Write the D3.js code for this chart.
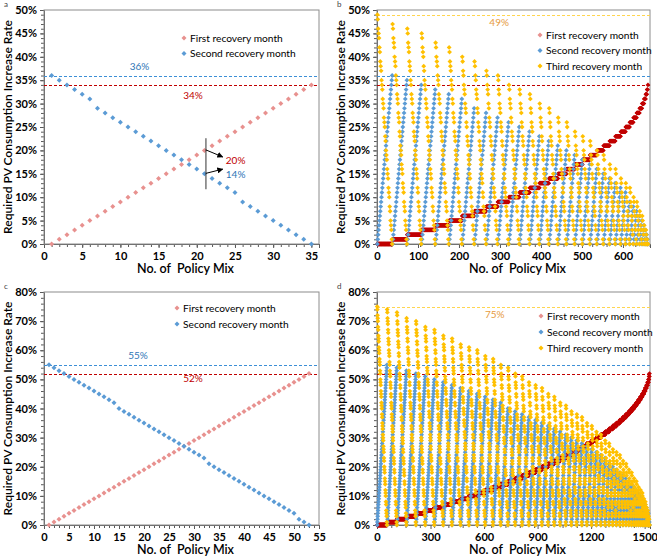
<!DOCTYPE html>
<html>
<head>
<meta charset="utf-8">
<script src="https://cdn.jsdelivr.net/npm/d3@7"></script>
<style>
  body { margin: 0; background: #fff; }
  text { font-family: Lato, "Open Sans", sans-serif; }
</style>
</head>
<body>
<div id="chart"></div>
<script>
// ---- data ----
// a: two recovery months, 35 policy mixes
const firstA = [0,1,2,3,4,5,6,7,8,9,10,11,12,13,14,15,16,17,18,19,20,21,22,23,24,25,26,27,28,29,30,31,32,33,34];
const secondA = [36,35,34,33,32,31,29,28,27,26,25,24,23,22,21,20,19,18,17,16,15,14,13,12,11,9,8,7,6,5,4,3,2,1,0];
// c: two recovery months, 53 policy mixes
const firstC = [0,1,2,3,4,5,6,7,8,9,10,11,12,13,14,15,16,17,18,19,20,21,22,23,24,25,26,27,28,29,30,31,32,33,34,35,36,37,38,39,40,41,42,43,44,45,46,47,48,49,50,51,52];
const secondC = [55,54,53,52,51,50,49,48,47,46,45,44,43,42,40,39,38,37,36,35,34,33,32,31,30,29,28,27,26,25,24,23,21,20,19,18,17,16,15,14,13,12,11,10,9,8,7,6,5,4,2,1,0];
// b / d: three recovery months. One group per first-month rate; inside a group the
// second month runs 0..max (max = two-month value above) and the third month falls to 0.
const thirdTopB = [49,47,46,45,43,42,40,39,37,36,34,33,32,30,29,27,26,24,23,22,20,19,17,16,14,13,12,10,9,7,6,4,3,1,0];
const thirdTopD = [75,74,73,71,70,68,67,65,64,62,61,60,58,57,55,54,52,51,49,48,47,45,44,42,41,39,38,37,35,34,32,31,29,28,26,25,24,22,21,19,18,16,15,13,12,11,9,8,6,5,3,2,0];

const seriesNames = ['First recovery month', 'Second recovery month', 'Third recovery month'];
const yTicksAB = [0,5,10,15,20,25,30,35,40,45,50];
const yTicksCD = [0,10,20,30,40,50,60,70,80];
const xTicksA = [0,5,10,15,20,25,30,35];
const xTicksB = [0,100,200,300,400,500,600];
const xTicksC = [0,5,10,15,20,25,30,35,40,45,50,55];
const xTicksD = [0,300,600,900,1200,1500];

// ---- helpers ----
const W = 657, H = 557;
const COL = {
  pink: '#e8918f', red: '#c00000', blue: '#5b9bd5', gold: '#ffc000',
  lineBlue: '#3d8fd6', lineRed: '#c00000', lineGold: '#ffd54f',
  labBlue: '#2e75b6', labRed: '#c00000', labGold: '#e69a3c', frame: '#8c8c8c'
};
const diamond = r => `M0,${-r}L${r},0L0,${r}L${-r},0Z`;

function twoMonth(first, second) {
  return first.map((v, i) => ({ mix: i + 1, first: v, second: second[i] }));
}

function threeMonth(first, secondMax, thirdTop) {
  const pts = [];
  let n = 0;
  first.forEach((r1, k) => {
    const m = secondMax[k];
    for (let j = 0; j <= m; j++) {
      n += 1;
      const r3 = m === 0 ? thirdTop[k] : Math.round(thirdTop[k] * (m - j) / m);
      pts.push({ mix: n, first: r1, second: j, third: r3 });
    }
  });
  return pts;
}

const svg = d3.select('#chart').append('svg')
  .attr('width', W).attr('height', H);

function panel(o) {
  const width = o.x1 - o.x0;
  const height = o.y1 - o.y0;
  const g = svg.append('g').attr('transform', `translate(${o.x0}, ${o.y0})`);

  const x = d3.scaleLinear().domain(o.xDomain).range([0, width]);
  const y = d3.scaleLinear().domain([0, o.yMax]).range([height, 0]);

  // minor ticks
  g.append('g').call(d3.axisLeft(y).tickValues(d3.range(0, o.yMax + 0.01, o.yMinor)).tickSize(3).tickFormat(''))
    .call(a => a.select('.domain').remove())
    .selectAll('line').attr('stroke', '#595959');
  g.append('g').attr('transform', `translate(0, ${height})`)
    .call(d3.axisBottom(x).tickValues(d3.range(0, o.xDomain[1] + 0.01, o.xMinor)).tickSize(3).tickFormat(''))
    .call(a => a.select('.domain').remove())
    .selectAll('line').attr('stroke', '#595959');

  // major axes
  const yAxis = g.append('g')
    .call(d3.axisLeft(y).tickValues(o.yTicks).tickSize(4).tickPadding(3).tickFormat(d => d + '%'));
  const xAxis = g.append('g').attr('transform', `translate(0, ${height})`)
    .call(d3.axisBottom(x).tickValues(o.xTicks).tickSize(4).tickPadding(4).tickFormat(d3.format('d')));
  [yAxis, xAxis].forEach(a => {
    a.select('.domain').attr('stroke', '#595959');
    a.selectAll('line').attr('stroke', '#595959');
    a.selectAll('text').attr('font-size', 11).attr('font-weight', 700).attr('fill', '#000')
      .attr('font-family', 'Lato, sans-serif');
  });

  g.append('rect').attr('width', width).attr('height', height)
    .attr('fill', 'none').attr('stroke', COL.frame);

  // reference lines
  o.refs.forEach(r => {
    const ly = Math.round(y(r.value)) + 0.5;
    g.append('line').attr('x1', 0).attr('x2', width)
      .attr('y1', ly).attr('y2', ly)
      .attr('stroke', r.color).attr('stroke-width', 1.1).attr('stroke-dasharray', '3,2');
  });

  // points
  o.series.forEach(s => {
    g.append('g').selectAll('path')
      .data(o.data)
      .enter().append('path')
      .attr('d', diamond(s.r))
      .attr('transform', d => `translate(${x(d.mix)}, ${y(d[s.key])})`)
      .attr('fill', s.color);
  });

  // reference labels
  o.refs.filter(r => r.lx !== undefined).forEach(r => {
    g.append('text').attr('x', x(r.lx)).attr('y', y(r.value) + r.dy)
      .attr('text-anchor', 'middle').attr('font-size', 10).attr('fill', r.textColor)
      .text(r.value + '%');
  });

  // legend
  o.legend.forEach((c, i) => {
    const ly = o.legendY + i * o.legendGap;
    g.append('path').attr('d', diamond(2.5))
      .attr('transform', `translate(${o.legendX}, ${ly})`).attr('fill', c);
    g.append('text').attr('x', o.legendX + 6).attr('y', ly + 3.6)
      .attr('font-size', 10.2).attr('fill', '#000').text(seriesNames[i]);
  });

  // axis titles
  svg.append('text')
    .attr('transform', `translate(${o.x0 - 32}, ${(o.y0 + o.y1) / 2}) rotate(-90)`)
    .attr('text-anchor', 'middle').attr('font-size', 12).attr('font-weight', 600)
    .text('Required PV Consumption Increase Rate');
  svg.append('text')
    .attr('x', (o.x0 + o.x1) / 2 + 4).attr('y', o.y1 + 29)
    .attr('text-anchor', 'middle').attr('font-size', 12.5).attr('font-weight', 600)
    .style('white-space', 'pre')
    .text('No. of  Policy Mix');

  svg.append('text').attr('x', o.x0 - 40).attr('y', o.y0 - 3)
    .attr('font-size', 8).attr('fill', '#444').text(o.tag);

  return { g, x, y };
}

// ---- panel a ----
const dataA = twoMonth(firstA, secondA);
const pa = panel({
  tag: 'a', x0: 44, x1: 319, y0: 10, y1: 244,
  xDomain: [0, 36], yMax: 50, yTicks: yTicksAB, xTicks: xTicksA, yMinor: 1, xMinor: 1,
  data: dataA,
  series: [{ key: 'first', color: COL.pink, r: 2.5 }, { key: 'second', color: COL.blue, r: 2.5 }],
  refs: [
    { value: 36, color: COL.lineBlue, textColor: COL.labBlue, lx: 12.5, dy: -6 },
    { value: 34, color: COL.lineRed, textColor: COL.labRed, lx: 19.5, dy: 14 }
  ],
  legend: [COL.pink, COL.blue], legendX: 140, legendY: 28, legendGap: 15.5
});

// arrows in panel a
const defs = svg.append('defs');
defs.append('marker').attr('id', 'arr').attr('viewBox', '0 0 10 10')
  .attr('refX', 9).attr('refY', 5).attr('markerWidth', 6).attr('markerHeight', 6)
  .attr('orient', 'auto')
  .append('path').attr('d', 'M0,0L10,5L0,10Z').attr('fill', '#000');
pa.g.append('line').attr('x1', pa.x(21.2)).attr('x2', pa.x(21.2))
  .attr('y1', pa.y(22.6)).attr('y2', pa.y(11.7)).attr('stroke', '#333').attr('stroke-width', 1);
[[20.1, 18.6, '20%', COL.labRed, 17.2], [15.1, 16.0, '14%', COL.labBlue, 14.2]].forEach(a => {
  pa.g.append('line').attr('x1', pa.x(21.2)).attr('y1', pa.y(a[0]))
    .attr('x2', pa.x(23.4)).attr('y2', pa.y(a[1]))
    .attr('stroke', '#000').attr('stroke-width', 1).attr('marker-end', 'url(#arr)');
  pa.g.append('text').attr('x', pa.x(23.8)).attr('y', pa.y(a[4]))
    .attr('font-size', 10).attr('fill', a[3]).text(a[2]);
});

// ---- panel b ----
const dataB = threeMonth(firstA, secondA, thirdTopB);
panel({
  tag: 'b', x0: 377, x1: 650, y0: 10, y1: 244,
  xDomain: [0, 666], yMax: 50, yTicks: yTicksAB, xTicks: xTicksB, yMinor: 1, xMinor: 35,
  data: dataB,
  series: [
    { key: 'first', color: COL.red, r: 2.4 },
    { key: 'second', color: COL.blue, r: 2.4 },
    { key: 'third', color: COL.gold, r: 2.4 }
  ],
  refs: [
    { value: 49, color: COL.lineGold, textColor: COL.labGold, lx: 298, dy: 11 },
    { value: 36, color: COL.lineBlue },
    { value: 34, color: COL.lineRed }
  ],
  legend: [COL.pink, COL.blue, COL.gold], legendX: 163, legendY: 25, legendGap: 15.5
});

// ---- panel c ----
const dataC = twoMonth(firstC, secondC);
panel({
  tag: 'c', x0: 44, x1: 319, y0: 292, y1: 525,
  xDomain: [0, 55], yMax: 80, yTicks: yTicksCD, xTicks: xTicksC, yMinor: 2, xMinor: 1,
  data: dataC,
  series: [{ key: 'first', color: COL.pink, r: 2.5 }, { key: 'second', color: COL.blue, r: 2.5 }],
  refs: [
    { value: 55, color: COL.lineBlue, textColor: COL.labBlue, lx: 18.8, dy: -6 },
    { value: 52, color: COL.lineRed, textColor: COL.labRed, lx: 29.8, dy: 8 }
  ],
  legend: [COL.pink, COL.blue], legendX: 133, legendY: 16, legendGap: 16
});

// ---- panel d ----
const dataD = threeMonth(firstC, secondC, thirdTopD);
panel({
  tag: 'd', x0: 377, x1: 650, y0: 292, y1: 525,
  xDomain: [0, 1530], yMax: 80, yTicks: yTicksCD, xTicks: xTicksD, yMinor: 2, xMinor: 80,
  data: dataD,
  series: [
    { key: 'first', color: COL.red, r: 2.4 },
    { key: 'second', color: COL.blue, r: 2.4 },
    { key: 'third', color: COL.gold, r: 2.4 }
  ],
  refs: [
    { value: 75, color: COL.lineGold, textColor: COL.labGold, lx: 660, dy: 11 },
    { value: 55, color: COL.lineBlue },
    { value: 52, color: COL.lineRed }
  ],
  legend: [COL.pink, COL.blue, COL.gold], legendX: 164, legendY: 24, legendGap: 16
});
</script>
</body>
</html>
